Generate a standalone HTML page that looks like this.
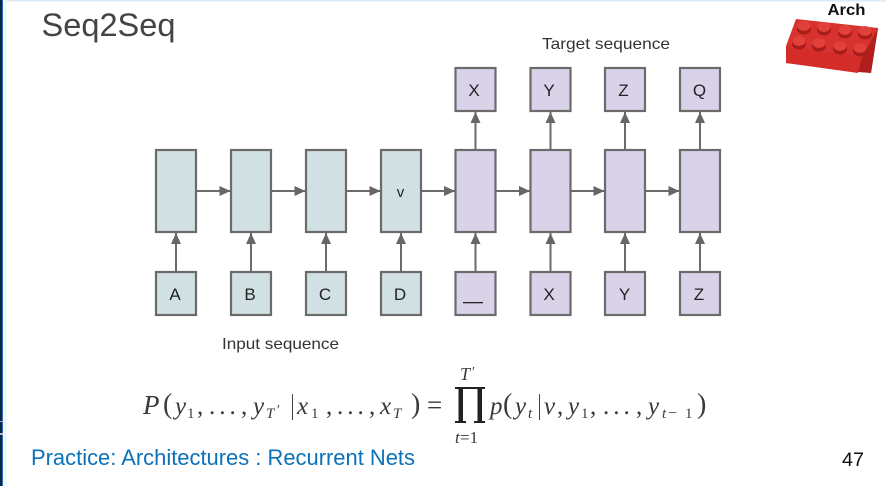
<!DOCTYPE html>
<html>
<head>
<meta charset="utf-8">
<style>
html,body{margin:0;padding:0;background:#fff}
svg{display:block}
text{font-family:"Liberation Sans",sans-serif}
.m text{font-family:"Liberation Serif",serif;fill:#3a3a3a}
.m text.i{font-style:italic}
</style>
</head>
<body>
<svg width="886" height="486" viewBox="0 0 886 486" xmlns="http://www.w3.org/2000/svg">
<defs>
<marker id="a" markerWidth="12" markerHeight="11" refX="11" refY="5" orient="auto" markerUnits="userSpaceOnUse"><path d="M0 0L11 5L0 10z" fill="#666"/></marker>
<g id="stud"><ellipse cx="0" cy="2" rx="7" ry="5.500" fill="#a81c1a"/><ellipse cx="0" cy="-1" rx="6.500" ry="5" fill="#e2403a"/></g>
</defs>
<rect width="886" height="486" fill="#fff"/>
<rect x="0" y="0" width="886" height="1.500" fill="#dcebf5"/>
<rect x="3" y="0" width="4" height="486" fill="#f1f8fc"/>
<rect x="0" y="0" width="2" height="486" fill="#14233f"/>
<rect x="2" y="0" width="1" height="486" fill="#2a70b8"/>
<rect x="0" y="421" width="3" height="1" fill="#aab"/>
<rect x="0" y="433" width="3" height="2" fill="#bbc"/>

<text x="41.500" y="36" font-size="32.500" fill="#444" textLength="134" lengthAdjust="spacingAndGlyphs">Seq2Seq</text>
<text x="827.500" y="15" font-size="16" font-weight="bold" fill="#111" textLength="38" lengthAdjust="spacingAndGlyphs">Arch</text>

<!-- brick -->
<path d="M796 19L878 28L871 73L786 63L786 46z" fill="#d8322e"/>
<path d="M786 46L862 57L858 73L786 63z" fill="#d42c29"/>
<path d="M878 28L871 73L858 72L862 57z" fill="#b01f1d"/>
<use href="#stud" x="804" y="27"/><use href="#stud" x="824" y="28"/><use href="#stud" x="845" y="31"/><use href="#stud" x="865" y="32"/>
<use href="#stud" x="799" y="42"/><use href="#stud" x="819" y="44"/><use href="#stud" x="840" y="47"/><use href="#stud" x="860" y="49"/>

<text x="542" y="49" font-size="16" fill="#333" textLength="128" lengthAdjust="spacingAndGlyphs">Target sequence</text>
<text x="222" y="349" font-size="16" fill="#333" textLength="117" lengthAdjust="spacingAndGlyphs">Input sequence</text>

<!-- boxes -->
<g stroke="#6b6b6b" stroke-width="2.200">
<g fill="#d0e0e3">
<rect x="156" y="150" width="40" height="82"/><rect x="231" y="150" width="40" height="82"/><rect x="306" y="150" width="40" height="82"/><rect x="381" y="150" width="40" height="82"/>
<rect x="156" y="272" width="40" height="43"/><rect x="231" y="272" width="40" height="43"/><rect x="306" y="272" width="40" height="43"/><rect x="381" y="272" width="40" height="43"/>
</g>
<g fill="#d9d2e9">
<rect x="455.500" y="150" width="40" height="82"/><rect x="530.500" y="150" width="40" height="82"/><rect x="605" y="150" width="40" height="82"/><rect x="680" y="150" width="40" height="82"/>
<rect x="455.500" y="272" width="40" height="43"/><rect x="530.500" y="272" width="40" height="43"/><rect x="605" y="272" width="40" height="43"/><rect x="680" y="272" width="40" height="43"/>
<rect x="455.500" y="68" width="40" height="43"/><rect x="530.500" y="68" width="40" height="43"/><rect x="605" y="68" width="40" height="43"/><rect x="680" y="68" width="40" height="43"/>
</g>
</g>

<!-- arrows -->
<g stroke="#6b6b6b" stroke-width="2" fill="none">
<path d="M197 191H230.500" marker-end="url(#a)"/><path d="M272 191H305.500" marker-end="url(#a)"/><path d="M347 191H380.500" marker-end="url(#a)"/><path d="M422 191H455" marker-end="url(#a)"/><path d="M496.500 191H530" marker-end="url(#a)"/><path d="M571.500 191H604.500" marker-end="url(#a)"/><path d="M646 191H679.500" marker-end="url(#a)"/>
<path d="M176 271V233" marker-end="url(#a)"/><path d="M251 271V233" marker-end="url(#a)"/><path d="M326 271V233" marker-end="url(#a)"/><path d="M401 271V233" marker-end="url(#a)"/><path d="M475.500 271V233" marker-end="url(#a)"/><path d="M550.500 271V233" marker-end="url(#a)"/><path d="M625 271V233" marker-end="url(#a)"/><path d="M700 271V233" marker-end="url(#a)"/>
<path d="M475.500 149V112" marker-end="url(#a)"/><path d="M550.500 149V112" marker-end="url(#a)"/><path d="M625 149V112" marker-end="url(#a)"/><path d="M700 149V112" marker-end="url(#a)"/>
</g>

<!-- labels -->
<g font-size="17" fill="#222" text-anchor="middle">
<text x="175" y="300">A</text><text x="250" y="300">B</text><text x="325" y="300">C</text><text x="400" y="300">D</text>
<text x="400.500" y="197" font-size="15">v</text>
<text x="549" y="300">X</text><text x="624.500" y="300">Y</text><text x="699" y="300">Z</text>
<text x="474" y="96">X</text><text x="549" y="96">Y</text><text x="623.500" y="96">Z</text><text x="699.500" y="96">Q</text>
</g>
<rect x="463" y="302" width="20" height="1.300" fill="#222"/>

<!-- formula -->
<g class="m" font-size="25">
<text x="143" y="414" class="i" font-size="27">P</text>
<text x="163" y="413" font-size="28">(</text>
<text x="175" y="414" class="i">y</text><text x="187" y="418" font-size="15">1</text>
<text x="197" y="414">,</text><text x="209" y="414" letter-spacing="4">...</text><text x="241" y="414">,</text>
<text x="253" y="414" class="i">y</text><text x="266" y="418" class="i" font-size="15">T</text><text x="277" y="414" font-size="14">′</text>
<rect x="292" y="394" width="1" height="26" fill="#444"/>
<text x="297" y="414" class="i">x</text><text x="311" y="418" font-size="15">1</text>
<text x="326" y="414">,</text><text x="337" y="414" letter-spacing="4">...</text><text x="369" y="414">,</text>
<text x="380" y="414" class="i">x</text><text x="393" y="418" class="i" font-size="15">T</text>
<text x="411" y="413" font-size="28">)</text>
<text x="427" y="414" font-size="27">=</text>
<text x="460" y="380" class="i" font-size="18">T</text><text x="472" y="376" font-size="14">′</text>
<path d="M455 387H485V389H482V421H485V423H474V421H477.500V389H463V421H466V423H455V421H458.500V389H455z" fill="#222"/>
<text x="455" y="443" class="i" font-size="17">t</text><text x="460" y="443" font-size="17">=1</text>
<text x="490" y="414" class="i">p</text>
<text x="503" y="413" font-size="28">(</text>
<text x="515" y="414" class="i">y</text><text x="528" y="418" class="i" font-size="15">t</text>
<rect x="539" y="394" width="1" height="26" fill="#444"/>
<text x="544" y="414" class="i">v</text><text x="557" y="414">,</text>
<text x="568" y="414" class="i">y</text><text x="581" y="418" font-size="15">1</text>
<text x="590" y="414">,</text><text x="603" y="414" letter-spacing="4">...</text><text x="636" y="414">,</text>
<text x="648" y="414" class="i">y</text><text x="662" y="418" class="i" font-size="15">t</text><text x="668" y="418" font-size="16">−</text><text x="685" y="418" font-size="15">1</text>
<text x="697" y="413" font-size="28">)</text>
</g>

<text x="31" y="465" font-size="22" fill="#0b72b9" textLength="384" lengthAdjust="spacingAndGlyphs">Practice: Architectures : Recurrent Nets</text>
<text x="842" y="466" font-size="19" fill="#111" textLength="22" lengthAdjust="spacingAndGlyphs">47</text>
</svg>
</body>
</html>
